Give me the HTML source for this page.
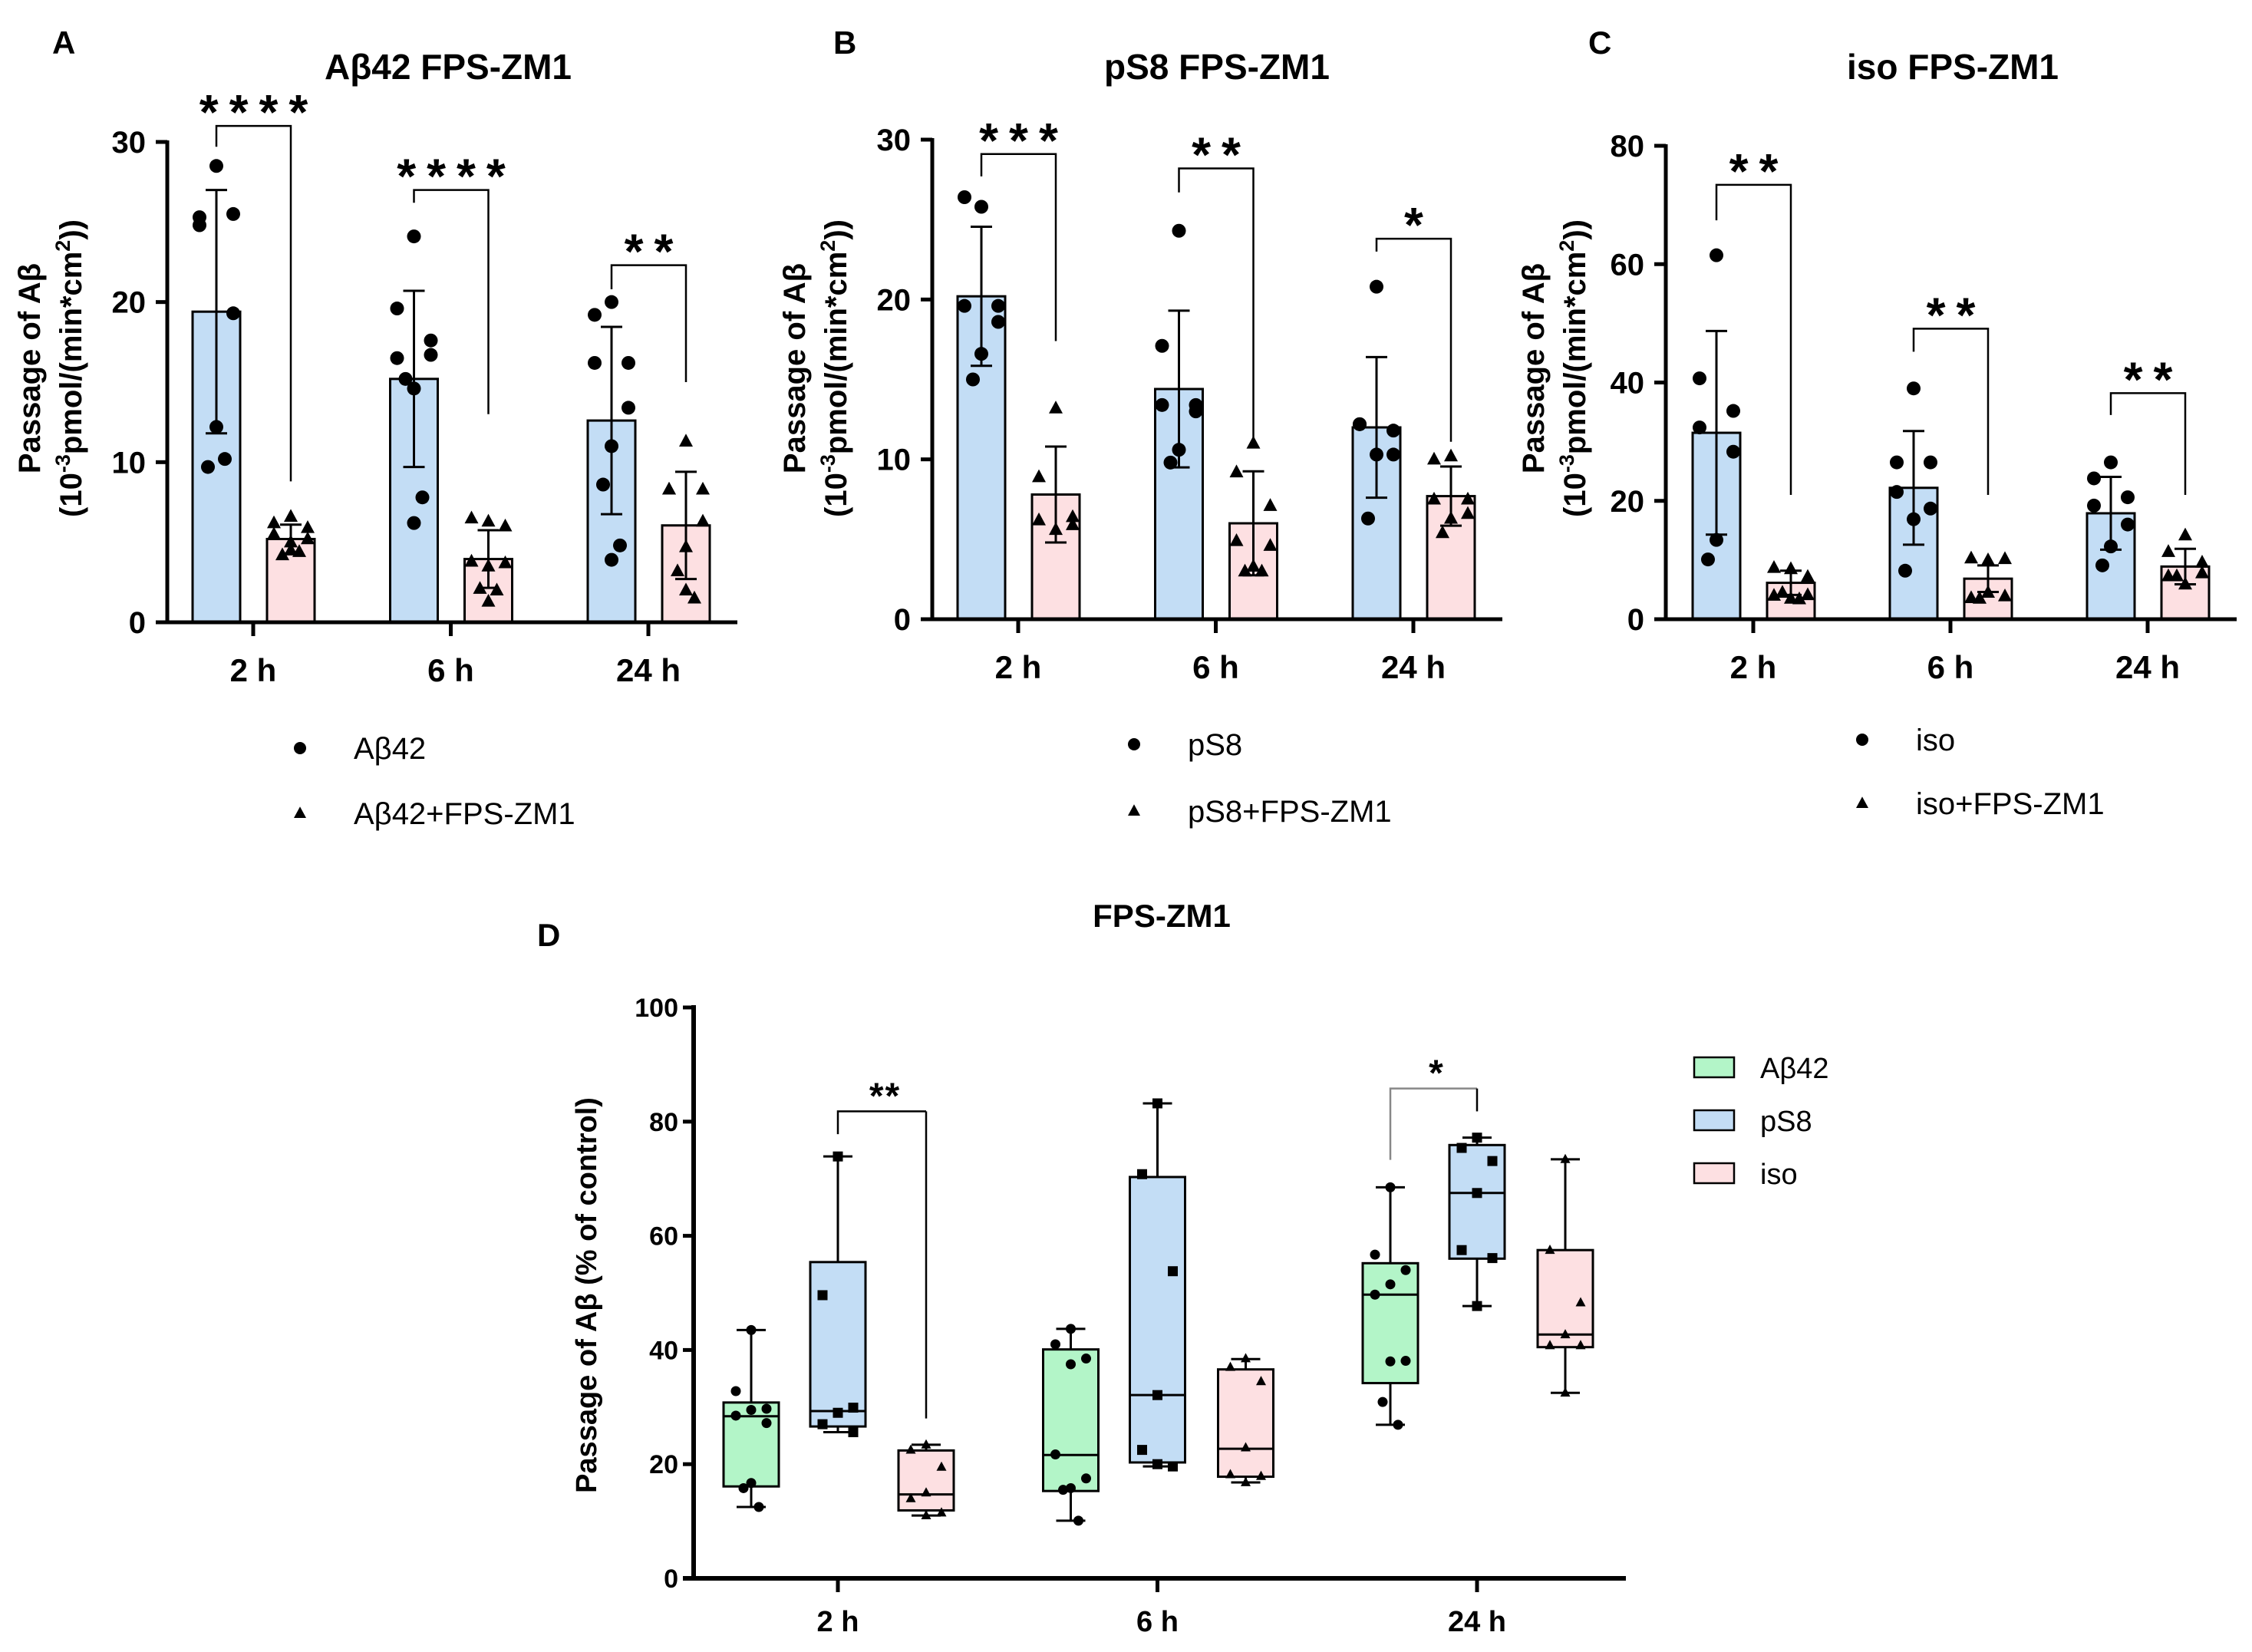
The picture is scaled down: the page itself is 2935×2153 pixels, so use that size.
<!DOCTYPE html>
<html><head><meta charset="utf-8">
<style>
html,body{margin:0;padding:0;background:#fff;}
svg{display:block;}
text{font-family:"Liberation Sans",sans-serif;fill:#000;}
</style></head>
<body>
<svg id="fig" width="2935" height="2153" viewBox="0 0 2935 2153" xmlns="http://www.w3.org/2000/svg"></svg>
<script>
// ---------- data ----------
const timeCats = ['2 h', '6 h', '24 h'];
// Panel A (Aβ42)
const aCtrlMean = [19.4, 15.2, 12.6];
const aCtrlSD = [7.6, 5.5, 5.85];
const aTrtMean = [5.2, 3.95, 6.05];
const aTrtSD = [0.9, 1.8, 3.35];
const aCtrlPts = [[28.5, 25.3, 25.5, 24.8, 19.3, 12.2, 9.7, 10.2], [24.1, 19.6, 17.6, 16.5, 16.7, 14.6, 15.2, 7.8, 6.2], [20.0, 19.2, 16.2, 16.2, 13.4, 11.0, 8.6, 4.8, 3.9]];
const aTrtPts = [[6.6, 6.2, 5.9, 5.5, 5.2, 4.5, 4.2, 4.4, 5.0], [6.3, 6.5, 6.0, 3.8, 3.7, 3.5, 2.1, 2.0, 1.3], [11.3, 8.3, 8.3, 8.3, 6.3, 4.7, 3.2, 1.5, 2.0]];
const aSig = ['****', '****', '**'];
const aBracket = [[31.0, 29.7, 8.8], [27.0, 26.2, 13.0], [22.3, 20.8, 15.0]];
const aTicks = [0, 10, 20, 30];
// Panel B (pS8)
const bCtrlMean = [20.2, 14.4, 12.0];
const bCtrlSD = [4.35, 4.9, 4.4];
const bTrtMean = [7.8, 6.0, 7.7];
const bTrtSD = [3.0, 3.25, 1.85];
const bCtrlPts = [[25.8, 26.4, 19.6, 19.6, 18.6, 16.6, 15.0], [24.3, 17.1, 13.4, 13.4, 13.0, 10.6, 9.8], [20.8, 12.2, 11.8, 12.2, 10.3, 10.3, 6.3]];
const bTrtPts = [[13.2, 8.9, 6.4, 6.2, 5.9, 5.6], [11.0, 9.2, 7.1, 4.9, 4.6, 3.3, 3.0, 3.0], [10.2, 10.0, 7.5, 7.5, 6.6, 6.3, 5.4]];
const bSig = ['***', '**', '*'];
const bBracket = [[29.1, 27.7, 17.4], [28.2, 26.7, 11.2], [23.8, 23.0, 11.1]];
const bTicks = [0, 10, 20, 30];
// Panel C (iso)
const cCtrlMean = [31.5, 22.2, 17.9];
const cCtrlSD = [17.2, 9.6, 6.15];
const cTrtMean = [6.15, 6.85, 8.9];
const cTrtSD = [2.05, 2.25, 3.0];
const cCtrlPts = [[61.5, 40.7, 35.2, 32.4, 28.3, 13.4, 10.1], [39.0, 26.5, 26.5, 21.5, 18.7, 16.9, 8.2], [26.5, 23.8, 20.6, 19.2, 16.0, 12.3, 9.1]];
const cTrtPts = [[8.5, 8.7, 7.2, 4.0, 4.1, 3.5, 4.5, 3.4], [10.0, 10.3, 10.2, 3.6, 3.9, 4.5, 3.5], [14.2, 11.4, 9.6, 7.3, 7.8, 5.9, 7.3]];
const cSig = ['**', '**', '**'];
const cBracket = [[73.4, 67.4, 21.0], [49.1, 45.2, 21.0], [38.2, 34.5, 21.0]];
const cTicks = [0, 20, 40, 60, 80];
// Panel D (% of control) — box stats [min, q1, median, q3, max]
const dSeries = ['Aβ42', 'pS8', 'iso'];
const dAb42Box = [[12.5, 16.1, 28.4, 30.8, 43.5], [10.1, 15.3, 21.6, 40.1, 43.7], [26.9, 34.2, 49.7, 55.2, 68.5]];
const dPs8Box = [[25.6, 26.6, 29.3, 55.4, 73.9], [19.6, 20.3, 32.1, 70.3, 83.2], [47.7, 56.0, 67.5, 75.9, 77.2]];
const dIsoBox = [[11.0, 11.9, 14.7, 22.4, 23.4], [16.8, 17.8, 22.7, 36.6, 38.4], [32.5, 40.5, 42.7, 57.5, 73.4]];
const dAb42Pts = [[43.5, 32.8, 29.7, 29.5, 28.5, 27.2, 16.7, 15.8, 12.5], [43.7, 41.0, 38.5, 37.5, 21.7, 17.5, 15.8, 15.5, 10.1], [68.5, 56.7, 54.0, 51.5, 49.7, 38.1, 38.0, 30.9, 26.9]];
const dPs8Pts = [[73.9, 49.6, 29.9, 29.0, 27.0, 25.6], [83.2, 70.8, 53.8, 32.1, 22.5, 19.6, 20.0], [77.2, 75.4, 73.1, 67.5, 57.5, 56.1, 47.7]];
const dIsoPts = [[23.4, 22.5, 19.5, 15.0, 14.0, 11.5, 11.0], [38.5, 37.0, 34.5, 22.9, 18.2, 17.9, 16.8], [73.4, 57.5, 48.3, 42.7, 40.8, 40.8, 32.5]];
const dSig = ['**', '*'];
const dBracket = [[81.8, 77.8, 28.0], [85.8, 73.3, 81.8]];
const dTicks = [0, 20, 40, 60, 80, 100];

// ---------- helpers ----------
const NS = 'http://www.w3.org/2000/svg';
const svg = document.getElementById('fig');
function mk(parent, tag, attrs, name) {
  const el = document.createElementNS(NS, tag);
  for (const k in attrs) el.setAttribute(k, attrs[k]);
  
  
  parent.appendChild(el);
  return el;
}
function txt(parent, x, y, s, size, weight, anchor, name, extra) {
  const t = mk(parent, 'text', Object.assign({x: x, y: y, 'font-size': size, 'font-weight': weight, 'text-anchor': anchor}, extra || {}), name);
  t.textContent = s;
  return t;
}
const BLUE = '#c3ddf5', PINK = '#fde0e2', GREEN = '#b3f5c8';
const jit = [0, -22, 22, -22, 22, 0, -11, 11, 0];
function marker(g, type, x, y, s, name) {
  if (type === 'dot') return mk(g, 'circle', {cx: x, cy: y, r: s, fill: '#000'}, name);
  if (type === 'square') return mk(g, 'rect', {x: x - s, y: y - s, width: 2 * s, height: 2 * s, fill: '#000'}, name);
  return mk(g, 'polygon', {points: `${x},${y - s * 1.1} ${x - s},${y + s * 0.75} ${x + s},${y + s * 0.75}`, fill: '#000'}, name);
}

// ---------- bar panels ----------
function barPanel(L, d) {
  const g = mk(svg, 'g', {}, L.id);
  const ys = v => L.y0 - (v / L.yMax) * (L.y0 - L.yTop);
  const cx = i => L.cat0 + i * L.catStep;
  for (let i = 0; i < 3; i++) {
    [[d.cm, d.csd, d.cp, BLUE, -48, 'dot', 'control'], [d.tm, d.tsd, d.tp, PINK, 49, 'tri', 'treated']].forEach(s => {
      const bx = cx(i) + s[4];
      mk(g, 'rect', {x: bx - 31, y: ys(s[0][i]), width: 62, height: L.y0 - ys(s[0][i]), fill: s[3], stroke: '#000', 'stroke-width': 3}, `bar-${s[6]}-${timeCats[i].replace(' ', '')}`);
      s[2][i].forEach((v, k) => marker(g, s[5], bx + jit[k % jit.length], ys(v), 9, `point-${s[6]}`));
      const up = ys(s[0][i] + s[1][i]), lo = ys(Math.max(0, s[0][i] - s[1][i]));
      mk(g, 'line', {x1: bx, x2: bx, y1: up, y2: lo, stroke: '#000', 'stroke-width': 3}, 'error-bar');
      mk(g, 'line', {x1: bx - 14, x2: bx + 14, y1: up, y2: up, stroke: '#000', 'stroke-width': 3}, 'error-cap');
      mk(g, 'line', {x1: bx - 14, x2: bx + 14, y1: lo, y2: lo, stroke: '#000', 'stroke-width': 3}, 'error-cap');
    });
    const b = d.br[i], xl = cx(i) - 48, xr = cx(i) + 49;
    mk(g, 'polyline', {points: `${xl},${ys(b[1])} ${xl},${ys(b[0])} ${xr},${ys(b[0])} ${xr},${ys(b[2])}`, fill: 'none', stroke: '#000', 'stroke-width': 2.5}, 'significance-bracket');
    txt(g, (xl + xr) / 2 + 7, ys(b[0]) + 4, d.sig[i], 64, 'bold', 'middle', 'significance-stars', {'letter-spacing': 14});
  }
  mk(g, 'line', {x1: L.x0, x2: L.x0, y1: L.yTop - 2, y2: L.y0 + 2.5, stroke: '#000', 'stroke-width': 5}, 'y-axis');
  mk(g, 'line', {x1: L.x0 - 15, x2: L.xEnd, y1: L.y0, y2: L.y0, stroke: '#000', 'stroke-width': 5}, 'x-axis');
  L.ticks.forEach(t => {
    mk(g, 'line', {x1: L.x0 - 15, x2: L.x0, y1: ys(t), y2: ys(t), stroke: '#000', 'stroke-width': 5}, 'y-tick');
    txt(g, L.x0 - 28, ys(t) + 14, String(t), 40, 'bold', 'end', 'y-tick-label');
  });
  timeCats.forEach((c, i) => {
    mk(g, 'line', {x1: cx(i), x2: cx(i), y1: L.y0, y2: L.y0 + 18, stroke: '#000', 'stroke-width': 5}, 'x-tick');
    txt(g, cx(i), L.y0 + 77, c, 42, 'bold', 'middle', 'x-tick-label');
  });
  txt(g, L.letterX, 70, L.letter, 42, 'bold', 'start', 'panel-letter');
  txt(g, L.titleX, 103, L.title, 46, 'bold', 'middle', 'panel-title');
  const yt = mk(g, 'text', {transform: `translate(${L.ytX},${L.ytY}) rotate(-90)`, 'font-size': 40, 'font-weight': 'bold', 'text-anchor': 'middle'}, 'y-axis-title');
  const t1 = mk(yt, 'tspan', {x: 0, y: 0}, 'y-title-line1'); t1.textContent = 'Passage of Aβ';
  const t2 = mk(yt, 'tspan', {x: 0, dy: 54}, 'y-title-line2'); t2.textContent = '(10';
  const t3 = mk(yt, 'tspan', {dy: -15, 'font-size': 27}, 'y-title-sup'); t3.textContent = '-3';
  const t4 = mk(yt, 'tspan', {dy: 15}, 'y-title-line2b'); t4.textContent = 'pmol/(min*cm';
  const t5 = mk(yt, 'tspan', {dy: -15, 'font-size': 27}, 'y-title-sup'); t5.textContent = '2';
  const t6 = mk(yt, 'tspan', {dy: 15}, 'y-title-line2c'); t6.textContent = '))';
  const lg = mk(g, 'g', {}, 'legend');
  marker(lg, 'dot', L.legX, L.legY1, 8, 'legend-marker-control');
  txt(lg, L.legX + 70, L.legY1 + 14, L.leg1, 40, 'normal', 'start', 'legend-entry');
  marker(lg, 'tri', L.legX, L.legY2, 8, 'legend-marker-treated');
  txt(lg, L.legX + 70, L.legY2 + 14, L.leg2, 40, 'normal', 'start', 'legend-entry');
}

barPanel({id: 'panel-a', x0: 218, xEnd: 961, y0: 811, yTop: 185, yMax: 30, ticks: aTicks, cat0: 330, catStep: 257.5,
  letter: 'A', letterX: 68, title: 'Aβ42 FPS-ZM1', titleX: 584, ytX: 52, ytY: 480,
  legX: 391, legY1: 975, legY2: 1060, leg1: 'Aβ42', leg2: 'Aβ42+FPS-ZM1'},
  {cm: aCtrlMean, csd: aCtrlSD, tm: aTrtMean, tsd: aTrtSD, cp: aCtrlPts, tp: aTrtPts, sig: aSig, br: aBracket});
barPanel({id: 'panel-b', x0: 1215, xEnd: 1958, y0: 807, yTop: 182, yMax: 30, ticks: bTicks, cat0: 1327, catStep: 257.5,
  letter: 'B', letterX: 1086, title: 'pS8 FPS-ZM1', titleX: 1586, ytX: 1049, ytY: 480,
  legX: 1478, legY1: 970, legY2: 1057, leg1: 'pS8', leg2: 'pS8+FPS-ZM1'},
  {cm: bCtrlMean, csd: bCtrlSD, tm: bTrtMean, tsd: bTrtSD, cp: bCtrlPts, tp: bTrtPts, sig: bSig, br: bBracket});
barPanel({id: 'panel-c', x0: 2171, xEnd: 2915, y0: 807, yTop: 190, yMax: 80, ticks: cTicks, cat0: 2285, catStep: 257,
  letter: 'C', letterX: 2070, title: 'iso FPS-ZM1', titleX: 2545, ytX: 2012, ytY: 480,
  legX: 2427, legY1: 964, legY2: 1047, leg1: 'iso', leg2: 'iso+FPS-ZM1'},
  {cm: cCtrlMean, csd: cCtrlSD, tm: cTrtMean, tsd: cTrtSD, cp: cCtrlPts, tp: cTrtPts, sig: cSig, br: cBracket});

// ---------- panel D ----------
(function () {
  const g = mk(svg, 'g', {}, 'panel-d');
  const x0 = 904, xEnd = 2119, y0 = 2057, yTop = 1313, yMax = 100;
  const ys = v => y0 - (v / yMax) * (y0 - yTop);
  const cx = i => 1092 + i * 416.5;
  const boxes = [dAb42Box, dPs8Box, dIsoBox], pts = [dAb42Pts, dPs8Pts, dIsoPts];
  const fills = [GREEN, BLUE, PINK], mks = ['dot', 'square', 'tri'], offs = [-113, 0, 115];
  for (let i = 0; i < 3; i++) {
    for (let s = 0; s < 3; s++) {
      const b = boxes[s][i], x = cx(i) + offs[s];
      const nm = `box-${['ab42', 'ps8', 'iso'][s]}-${timeCats[i].replace(' ', '')}`;
      mk(g, 'line', {x1: x, x2: x, y1: ys(b[4]), y2: ys(b[3]), stroke: '#000', 'stroke-width': 3}, 'whisker-upper');
      mk(g, 'line', {x1: x, x2: x, y1: ys(b[1]), y2: ys(b[0]), stroke: '#000', 'stroke-width': 3}, 'whisker-lower');
      mk(g, 'line', {x1: x - 19, x2: x + 19, y1: ys(b[4]), y2: ys(b[4]), stroke: '#000', 'stroke-width': 3}, 'whisker-cap');
      mk(g, 'line', {x1: x - 19, x2: x + 19, y1: ys(b[0]), y2: ys(b[0]), stroke: '#000', 'stroke-width': 3}, 'whisker-cap');
      mk(g, 'rect', {x: x - 36, y: ys(b[3]), width: 72, height: ys(b[1]) - ys(b[3]), fill: fills[s], stroke: '#000', 'stroke-width': 3}, nm);
      mk(g, 'line', {x1: x - 36, x2: x + 36, y1: ys(b[2]), y2: ys(b[2]), stroke: '#000', 'stroke-width': 3}, 'median-line');
      pts[s][i].forEach((v, k) => marker(g, mks[s], x + [0, -20, 20, 0, -20, 20, 0, -10, 10][k % 9], ys(v), 6.5, `point-${['ab42', 'ps8', 'iso'][s]}`));
    }
  }
  [[cx(0), cx(0) + 115, '#000'], [cx(2) - 113, cx(2), '#888']].forEach((p, k) => {
    const b = dBracket[k];
    mk(g, 'polyline', {points: `${p[0]},${ys(b[1])} ${p[0]},${ys(b[0])} ${p[1]},${ys(b[0])}`, fill: 'none', stroke: p[2], 'stroke-width': 2.5}, 'significance-bracket');
    mk(g, 'line', {x1: p[1], x2: p[1], y1: ys(b[0]), y2: ys(b[2]), stroke: '#000', 'stroke-width': 2.5}, 'significance-bracket-leg');
    txt(g, (p[0] + p[1]) / 2 + 4, ys(b[0]) - 4, dSig[k], 48, 'bold', 'middle', 'significance-stars', {'letter-spacing': 2});
  });
  mk(g, 'line', {x1: x0, x2: x0, y1: yTop - 3, y2: y0 + 3, stroke: '#000', 'stroke-width': 6}, 'y-axis');
  mk(g, 'line', {x1: x0 - 14, x2: xEnd, y1: y0, y2: y0, stroke: '#000', 'stroke-width': 6}, 'x-axis');
  dTicks.forEach(t => {
    mk(g, 'line', {x1: x0 - 14, x2: x0, y1: ys(t), y2: ys(t), stroke: '#000', 'stroke-width': 5}, 'y-tick');
    txt(g, x0 - 20, ys(t) + 12, String(t), 34, 'bold', 'end', 'y-tick-label', {'font-family': '"Liberation Sans Narrow","Liberation Sans",sans-serif'});
  });
  timeCats.forEach((c, i) => {
    mk(g, 'line', {x1: cx(i), x2: cx(i), y1: y0, y2: y0 + 18, stroke: '#000', 'stroke-width': 5}, 'x-tick');
    txt(g, cx(i), 2126, c, 38, 'bold', 'middle', 'x-tick-label', {'font-family': '"Liberation Sans Narrow","Liberation Sans",sans-serif'});
  });
  txt(g, 700, 1233, 'D', 42, 'bold', 'start', 'panel-letter');
  txt(g, 1514, 1208, 'FPS-ZM1', 42, 'bold', 'middle', 'panel-title', {'font-family': '"Liberation Sans Narrow","Liberation Sans",sans-serif'});
  txt(g, 0, 0, 'Passage of Aβ (% of control)', 38, 'bold', 'middle', 'y-axis-title', {transform: 'translate(777,1688) rotate(-90)'});
  const lg = mk(g, 'g', {}, 'legend');
  dSeries.forEach((s, k) => {
    const y = 1391 + k * 69;
    mk(lg, 'rect', {x: 2208, y: y - 13, width: 52, height: 26, fill: fills[k], stroke: '#000', 'stroke-width': 2.5}, 'legend-swatch');
    txt(lg, 2294, y + 14, s, 38, 'normal', 'start', 'legend-entry');
  });
})();
</script>
</body></html>
